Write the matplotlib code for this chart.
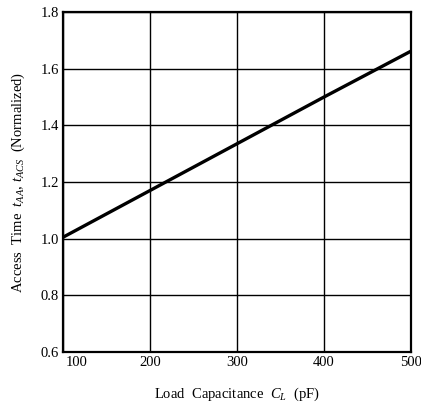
import numpy as np
import matplotlib as mpl

mpl.use("Agg")
import matplotlib.pyplot as plt
from matplotlib.transforms import ScaledTranslation

plt.rcParams["font.family"] = ["Liberation Serif", "DejaVu Serif"]
plt.rcParams["mathtext.fontset"] = "custom"
plt.rcParams["mathtext.it"] = "Liberation Serif:italic"
plt.rcParams["mathtext.rm"] = "Liberation Serif"

load_pf = [100, 200, 300, 400, 500]
access_norm = [1.005, 1.17, 1.335, 1.50, 1.662]

x_ticks = [100, 200, 300, 400, 500]
y_ticks = [0.6, 0.8, 1.0, 1.2, 1.4, 1.6, 1.8]

fig = plt.figure(figsize=(4.21, 4.03), dpi=100)
ax = fig.add_axes([0.1496, 0.1266, 0.8264, 0.8434])

ax.plot(load_pf, access_norm, color="black", lw=2.4, solid_capstyle="butt")

ax.set_xlim(100, 500)
ax.set_ylim(0.6, 1.8)
ax.set_xticks(x_ticks)
ax.set_yticks(y_ticks)
ax.set_xticklabels([str(v) for v in x_ticks])
ax.set_yticklabels([f"{v:.1f}" for v in y_ticks])
ax.grid(True, color="black", lw=1.0)
ax.tick_params(length=0, labelsize=10.5, pad=3)
for s in ax.spines.values():
    s.set_linewidth(1.6)

# first x label sits just right of the frame, as in the original
first = ax.get_xticklabels()[0]
first.set_transform(first.get_transform() + ScaledTranslation(14 / 100, 0, fig.dpi_scale_trans))

ax.set_xlabel(r"Load  Capacitance  $C_L$  (pF)", fontsize=10.5, labelpad=12)
ax.set_ylabel(r"Access  Time  $t_{AA}$, $t_{ACS}$  (Normalized)", fontsize=10.5, labelpad=10)

fig.savefig("out.png", dpi=100)
plt.close()
